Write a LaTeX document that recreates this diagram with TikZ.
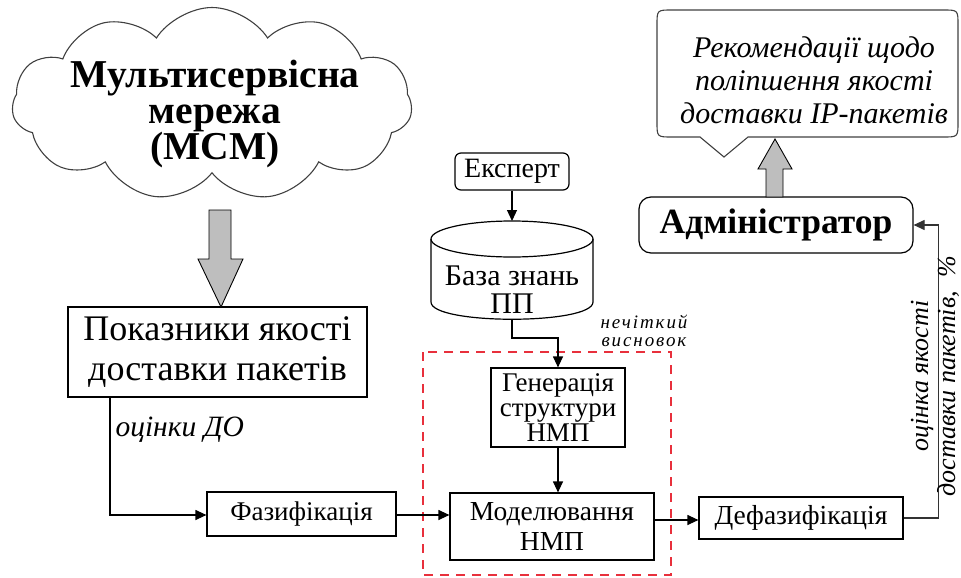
\documentclass[tikz,border=0pt]{standalone}
\usepackage{fontspec}
\setmainfont{Liberation Serif}
\usetikzlibrary{shapes.symbols,arrows.meta}
\definecolor{dashred}{RGB}{232,48,60}
\definecolor{blockgray}{RGB}{190,190,190}
\begin{document}
\begin{tikzpicture}[x=1pt,y=-1pt,
  box/.style={draw, line width=1.2pt, inner sep=0pt, align=center},
  arr/.style={-{Triangle[length=11pt,width=10pt]}, line width=1.2pt}]
\useasboundingbox (0,0) rectangle (961,578);

% cloud
\node[cloud, cloud puffs=11, cloud puff arc=115, aspect=2.07, draw=black!75, line width=1.1pt,
      minimum width=400pt, minimum height=193pt, inner sep=0pt] (cloud) at (212,104) {};
\node[font=\fontsize{39.5}{36}\selectfont\bfseries, align=center] (cloudtxt) at (215,114)
  {Мультисервісна\\мережа\\(МСМ)};

% boxes
\node[box, minimum width=299pt, minimum height=90pt, font=\fontsize{36}{40}\selectfont] (pok) at (217.5,352)
  {Показники якості\\доставки пакетів};
\node[box, minimum width=189pt, minimum height=44pt, font=\fontsize{27}{27}\selectfont] (faz) at (301.5,514) {Фазифікація};
\node[box, minimum width=134pt, minimum height=79pt, font=\fontsize{27}{25}\selectfont] (gen) at (558,407.5)
  {Генерація\\структури\\НМП};
\node[box, minimum width=204pt, minimum height=67pt, font=\fontsize{27.5}{30}\selectfont] (mod) at (552,526.5)
  {Моделювання\\НМП};
\node[box, minimum width=204pt, minimum height=42pt, font=\fontsize{27.5}{27.5}\selectfont] (def) at (801,518) {Дефазифікація};
\node[box, rounded corners=12pt, minimum width=274pt, minimum height=56pt, font=\fontsize{35.5}{35.5}\selectfont\bfseries] (adm) at (776,225) {Адміністратор};
\node[box, rounded corners=6pt, minimum width=114pt, minimum height=37pt, font=\fontsize{28}{28}\selectfont] (exp) at (512,171.5) {Експерт};

% knowledge base cylinder
\draw[line width=1.2pt] (512,239) ellipse [x radius=81, y radius=18];
\draw[line width=1.2pt] (431,239) -- (431,302) .. controls (431,325) and (593,325) .. (593,302) -- (593,239);
\coordinate (kbtop) at (512,221);
\coordinate (kbbot) at (512,319);
\node[align=center, font=\fontsize{30}{28}\selectfont] (kb) at (512,290) {База знань\\ПП};

% dashed region
\draw[dashred, line width=1.2pt, dash pattern=on 9pt off 7pt] (423,352) rectangle (671,575);

% callout
\draw[line width=1.1pt, draw=black!75]
  (672,10) -- (943,10) .. controls (958,10) .. (958,25) -- (958,122) .. controls (958,137) .. (943,137)
  -- (748,137) -- (724,157) -- (700,137) -- (672,137) .. controls (657,137) .. (657,122)
  -- (657,25) .. controls (657,10) .. (672,10) -- cycle;
\node[align=center, font=\fontsize{30}{33}\selectfont\itshape] (rec) at (814,80)
  {Рекомендації щодо\\поліпшення якості\\доставки IP-пакетів};

% block arrows
\draw[fill=blockgray, line width=0.9pt]
  (209,210) -- (231,210) -- (231,259) -- (243,259) -- (221,307) -- (198,259) -- (209,259) -- cycle;
\draw[fill=blockgray, line width=0.9pt]
  (766,197) -- (783,197) -- (783,169) -- (792,169) -- (775,139) -- (758,169) -- (766,169) -- cycle;

% connectors
\draw[arr] (exp.south) -- (kbtop);
\draw[arr] (kbbot) -- ++(0,19) -| (gen.north);
\draw[arr] (gen.south) -- (gen.south |- mod.north);
\draw[arr] ([xshift=-107.5pt]pok.south) |- (faz.west |- 0,515);
\draw[arr] (faz.east |- 0,515) -- (mod.west |- 0,515);
\draw[arr] (mod.east |- 0,520) -- (def.west |- 0,520);
\draw[arr, line width=1.1pt, draw=black!80] (def.east) -- ++(35,0) |- (adm.east);

% labels
\node[anchor=west, font=\fontsize{29.5}{29.5}\selectfont\itshape] (lbl1) at (112,430) {оцінки ДО};
\node[align=center, font=\fontsize{19}{18}\selectfont\itshape\addfontfeature{LetterSpace=10}] (lbl2) at (644,331) {нечіткий\\висновок};
\node[rotate=90, align=center, font=\fontsize{26}{27}\selectfont\itshape] (lbl3) at (935,376)
  {оцінка якості\\доставки пакетів,\hspace{14pt}\%};
\end{tikzpicture}
\end{document}
